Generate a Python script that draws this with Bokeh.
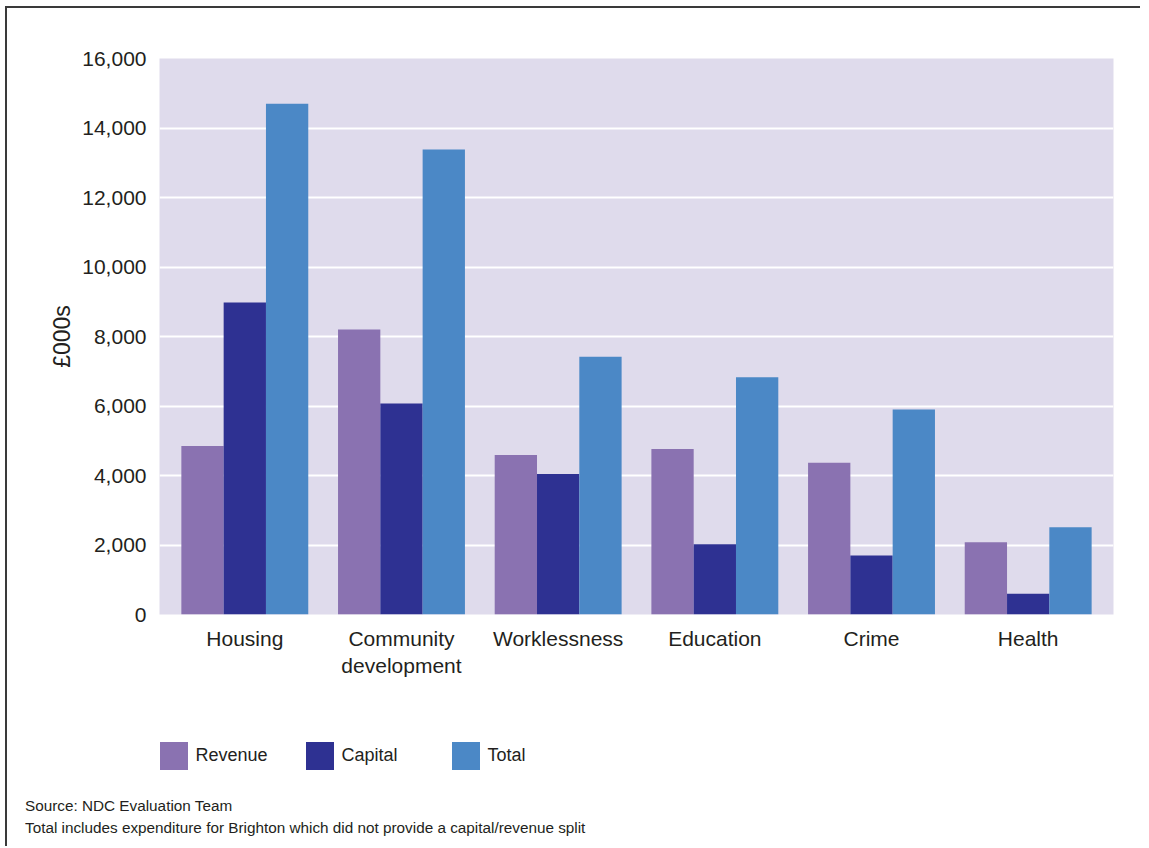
import numpy as np
from bokeh.plotting import figure
from bokeh.layouts import column
from bokeh.models import (ColumnDataSource, FactorRange, Range1d, Legend, LegendItem,
                          Div, FixedTicker, NumeralTickFormatter)
from bokeh.transform import dodge
from bokeh.embed import file_html
from bokeh.resources import INLINE

# ---- data ----
categories = ["Housing", "Community\ndevelopment", "Worklessness", "Education", "Crime", "Health"]
revenue = [4850, 8200, 4590, 4760, 4370, 2080]
capital = [8980, 6070, 4040, 2020, 1700, 600]
total = [14700, 13380, 7420, 6830, 5900, 2510]
series_names = ["Revenue", "Capital", "Total"]
y_ticks = [0, 2000, 4000, 6000, 8000, 10000, 12000, 14000, 16000]
y_title = "£000s"
notes = ["Source: NDC Evaluation Team",
         "Total includes expenditure for Brighton which did not provide a capital/revenue split"]

# ---- styles ----
colors = ["#8a72b1", "#2e3192", "#4b88c6"]
text_color = "#231f20"
font = "Liberation Sans"

src = ColumnDataSource(dict(cat=categories, Revenue=revenue, Capital=capital, Total=total))

# ---------------- main chart ----------------
p = figure(x_range=FactorRange(factors=categories, range_padding=0.0445,
                               range_padding_units="absolute"),
           y_range=Range1d(0, 16000),
           width=1133, height=682,
           min_border_left=152, min_border_top=50, min_border_right=27, min_border_bottom=76,
           output_backend="svg", toolbar_location=None,
           background_fill_color="#dfdbec", border_fill_color="white")
p.outline_line_color = None

offsets = [-0.27, 0.0, 0.27]
for name, off, col in zip(series_names, offsets, colors):
    p.vbar(x=dodge("cat", off, range=p.x_range), top=name, width=0.27, source=src,
           fill_color=col, line_color=None)

p.xgrid.grid_line_color = None
p.ygrid.grid_line_color = "white"
p.ygrid.grid_line_width = 2
p.ygrid.ticker = FixedTicker(ticks=y_ticks)

p.yaxis.ticker = FixedTicker(ticks=y_ticks)
p.yaxis.formatter = NumeralTickFormatter(format="0,0")
p.yaxis.axis_line_color = None
p.yaxis.major_tick_line_color = None
p.yaxis.minor_tick_line_color = None
p.yaxis.major_tick_out = 0
p.yaxis.major_tick_in = 0
p.yaxis.major_label_standoff = 13
p.yaxis.major_label_text_font = font
p.yaxis.major_label_text_font_size = "21px"
p.yaxis.major_label_text_color = text_color
p.yaxis.axis_label = y_title
p.yaxis.axis_label_text_font = font
p.yaxis.axis_label_text_font_size = "23px"
p.yaxis.axis_label_text_font_style = "normal"
p.yaxis.axis_label_text_color = text_color
p.yaxis.axis_label_standoff = 4

p.xaxis.axis_line_color = None
p.xaxis.major_tick_line_color = None
p.xaxis.minor_tick_line_color = None
p.xaxis.major_tick_out = 0
p.xaxis.major_tick_in = 0
p.xaxis.major_label_standoff = 12
p.xaxis.major_label_text_font = font
p.xaxis.major_label_text_font_size = "21px"
p.xaxis.major_label_text_color = text_color

# ---------------- legend strip ----------------
q = figure(x_range=Range1d(0, 1), y_range=Range1d(0, 1),
           width=1133, height=100, min_border=0,
           x_axis_type=None, y_axis_type=None,
           output_backend="svg", toolbar_location=None,
           background_fill_color="white", border_fill_color="white")
q.outline_line_color = None
q.xgrid.visible = False
q.ygrid.visible = False

items = []
for name, col in zip(series_names, colors):
    # legend proxy: carries only the series colour, draws nothing
    r = q.vbar(x=np.array([np.nan]), top=np.array([np.nan]), width=0.1,
               fill_color=col, line_color=None)
    items.append(LegendItem(label=name, renderers=[r]))

legend = Legend(items=items, location=(-3.5, 17.5), orientation="horizontal",
                glyph_width=35, glyph_height=35, label_height=35, label_width=106,
                label_standoff=5, padding=0, margin=0, spacing=0,
                border_line_color=None, background_fill_alpha=0,
                label_text_font=font, label_text_font_size="18px",
                label_text_color=text_color)
q.add_layout(legend)

# ---------------- notes ----------------
notes_div = Div(text="<br>".join(notes), width=1133, height=56, margin=0,
                styles={"font-family": font, "font-size": "15.3px", "line-height": "22px",
                        "color": text_color, "padding-left": "18px", "padding-top": "5px"})

layout = column(p, q, notes_div, spacing=0,
                styles={"border-top": "2px solid #3a3a3a", "border-left": "2px solid #3a3a3a",
                        "position": "relative", "left": "5px", "top": "6px"})

open("out.html", "w").write(file_html(layout, INLINE))
